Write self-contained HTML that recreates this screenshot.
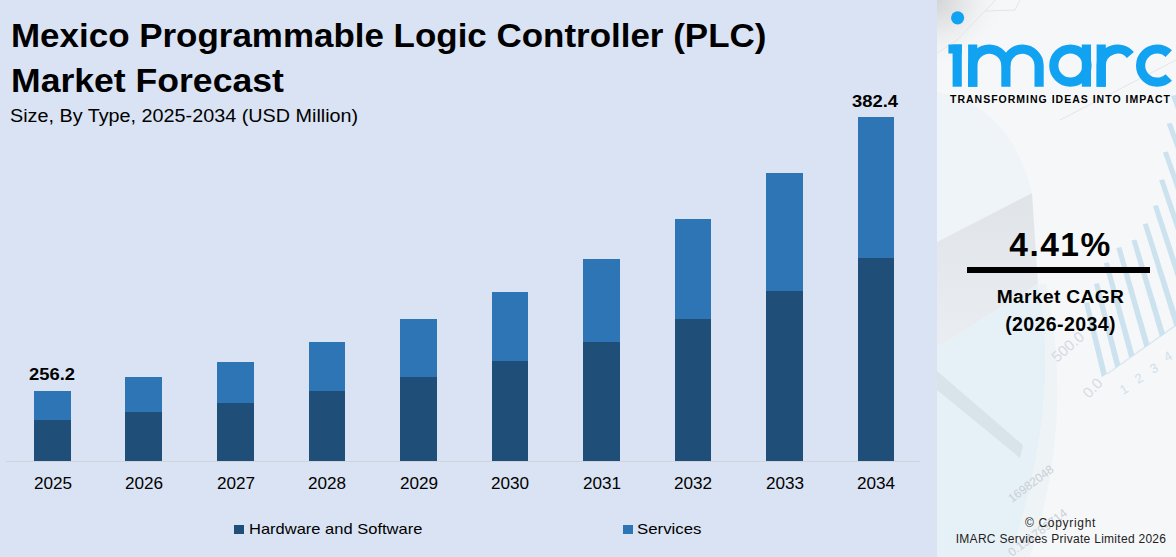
<!DOCTYPE html>
<html><head><meta charset="utf-8">
<style>
*{margin:0;padding:0;box-sizing:border-box}
html,body{width:1176px;height:557px;overflow:hidden;background:#dae3f3;font-family:"Liberation Sans",sans-serif;color:#000}
#left{position:absolute;left:0;top:0;width:937px;height:557px;background:#dae3f3}
.t{position:absolute;white-space:nowrap;line-height:1}
.title{left:10.5px;font-weight:bold;font-size:33px;transform-origin:0 0}
.sub{left:10px;top:106.5px;font-size:18px;transform-origin:0 0;transform:scaleX(1.099)}
.bar{position:absolute;width:36px}
.hw{background:#1f4e79}
.sv{background:#2e75b6}
.axis{position:absolute;left:6px;top:461px;width:914px;height:1px;background:#cfd3da}
.yr{position:absolute;top:476px;font-size:16px;width:60px;text-align:center;transform:scaleX(1.07)}
.val{position:absolute;font-weight:bold;font-size:17px;transform-origin:0 0;transform:scaleX(1.08)}
.leg{position:absolute;top:521px;font-size:15px;transform-origin:0 0}
.sq{position:absolute;width:10px;height:9px;top:525px}
#right{position:absolute;left:937px;top:0;width:239px;height:557px;background:#f4f6f8;overflow:hidden}
.c{position:absolute;left:0;width:239px;text-align:center;white-space:nowrap;line-height:1}
</style></head><body>
<div id="left">
  <div class="t title" style="top:19.3px;transform:scaleX(1.059)">Mexico Programmable Logic Controller (PLC)</div>
  <div class="t title" style="top:64.3px;transform:scaleX(1.078)">Market Forecast</div>
  <div class="t sub">Size, By Type, 2025-2034 (USD Million)</div>
  <div class="axis"></div>
<div class="bar sv" style="left:34px;top:391px;height:29px;width:37px"></div>
<div class="bar hw" style="left:34px;top:420px;height:41px;width:37px"></div>
<div class="t yr" style="left:22.5px">2025</div>
<div class="bar sv" style="left:125px;top:377px;height:35px;width:37px"></div>
<div class="bar hw" style="left:125px;top:412px;height:49px;width:37px"></div>
<div class="t yr" style="left:113.5px">2026</div>
<div class="bar sv" style="left:217px;top:362px;height:41px;width:37px"></div>
<div class="bar hw" style="left:217px;top:403px;height:58px;width:37px"></div>
<div class="t yr" style="left:205.5px">2027</div>
<div class="bar sv" style="left:309px;top:342px;height:49px;width:36px"></div>
<div class="bar hw" style="left:309px;top:391px;height:70px;width:36px"></div>
<div class="t yr" style="left:297.0px">2028</div>
<div class="bar sv" style="left:400px;top:319px;height:58px;width:37px"></div>
<div class="bar hw" style="left:400px;top:377px;height:84px;width:37px"></div>
<div class="t yr" style="left:388.5px">2029</div>
<div class="bar sv" style="left:492px;top:292px;height:69px;width:36px"></div>
<div class="bar hw" style="left:492px;top:361px;height:100px;width:36px"></div>
<div class="t yr" style="left:480.0px">2030</div>
<div class="bar sv" style="left:583px;top:259px;height:83px;width:37px"></div>
<div class="bar hw" style="left:583px;top:342px;height:119px;width:37px"></div>
<div class="t yr" style="left:571.5px">2031</div>
<div class="bar sv" style="left:675px;top:219px;height:100px;width:36px"></div>
<div class="bar hw" style="left:675px;top:319px;height:142px;width:36px"></div>
<div class="t yr" style="left:663.0px">2032</div>
<div class="bar sv" style="left:766px;top:173px;height:118px;width:37px"></div>
<div class="bar hw" style="left:766px;top:291px;height:170px;width:37px"></div>
<div class="t yr" style="left:754.5px">2033</div>
<div class="bar sv" style="left:858px;top:117px;height:141px;width:36px"></div>
<div class="bar hw" style="left:858px;top:258px;height:203px;width:36px"></div>
<div class="t yr" style="left:846.0px">2034</div>
  <div class="t val" style="left:28.5px;top:366px">256.2</div>
  <div class="t val" style="left:851.5px;top:92.5px">382.4</div>
  <div class="sq hw" style="left:234px"></div>
  <div class="t leg" style="left:248.5px;transform:scaleX(1.10)">Hardware and Software</div>
  <div class="sq sv" style="left:623px"></div>
  <div class="t leg" style="left:637px;transform:scaleX(1.12)">Services</div>
</div>
<div id="right">
  <svg width="239" height="557" viewBox="937 0 239 557" style="position:absolute;left:0;top:0">
<defs>
 <radialGradient id="tl" cx="937" cy="0" r="70" gradientUnits="userSpaceOnUse">
  <stop offset="0" stop-color="#d4d5d7"/><stop offset="0.45" stop-color="#e9eaeb"/><stop offset="1" stop-color="#f6f7f8" stop-opacity="0"/>
 </radialGradient>
 <linearGradient id="side" x1="0" y1="0" x2="0" y2="1">
  <stop offset="0" stop-color="#e0e4e8"/><stop offset="1" stop-color="#eaeef2"/>
 </linearGradient>
</defs>
<rect x="937" y="0" width="239" height="557" fill="#f6f7f9"/>
<rect x="937" y="0" width="130" height="120" fill="url(#tl)"/>
<path d="M937 92 Q1010 105 1032 193 L937 242 Z" fill="#eef4f8"/>
<path d="M937 53 L956 41 L985 11 L1015 10 L1020 0 M985 11 L1000 -5 M1060 120 L1176 60" fill="none" stroke="#e3e5e8" stroke-width="1"/>
<path d="M937 242 L1032 193 L1038 284 L937 348 Z" fill="url(#side)"/>
<path d="M937 348 L1038 284 Q1062 400 1010 557 L937 557 Z" fill="#e6f1f7"/>
<path d="M937 371 L1023 445 L1020 458 L937 390 Z" fill="#d9e3ea"/>
<path d="M1010 557 Q1062 400 1038 284 L1046 284 Q1075 420 1030 557 Z" fill="#eef3f6"/>
<g fill="#d5dae4" font-family="Liberation Sans, sans-serif" font-size="15">
<text transform="translate(1057 363) rotate(-41)">500.0</text>
<text transform="translate(1089 399) rotate(-46)">0.0</text>
</g>
<g fill="#cfe1ec" font-family="Liberation Sans, sans-serif" font-size="13">
<text transform="translate(1123 395) rotate(-30)">1</text>
<text transform="translate(1138 384) rotate(-30)">2</text>
<text transform="translate(1153 374) rotate(-30)">3</text>
<text transform="translate(1167 362) rotate(-30)">4</text>
</g>
<path d="M1107 374 L1176 325" stroke="#d8e7f0" stroke-width="1.5"/>
<g fill="#c9cfd6" font-family="Liberation Sans, sans-serif" font-size="12">
<text transform="translate(1012 503) rotate(-37)">16982048</text>
<text transform="translate(1012 557) rotate(-37)">0.151789714</text>
</g>
<g fill="#cce2ef">
<path d="M1084.0 303.0 L1089.0 302.0 L1106.8 373.7 L1101.8 377.2 Z"/>
<path d="M1094.0 284.0 L1099.0 283.0 L1120.3 364.4 L1115.3 367.9 Z"/>
<path d="M1103.8 263.2 L1108.8 262.2 L1134.3 354.7 L1129.3 358.2 Z"/>
<path d="M1116.4 248.1 L1121.4 247.1 L1149.5 344.2 L1144.5 347.7 Z"/>
<path d="M1131.5 240.6 L1136.5 239.6 L1165.0 333.5 L1160.0 337.0 Z"/>
<path d="M1142.8 224.2 L1147.8 223.2 L1179.6 323.4 L1174.6 326.9 Z"/>
<path d="M1152.9 205.9 L1157.9 204.9 L1193.9 313.6 L1188.9 317.1 Z"/>
<path d="M1159.1 180.2 L1164.1 179.2 L1207.2 304.4 L1202.2 307.9 Z"/>
<path d="M1162.9 152.6 L1167.9 151.6 L1219.6 295.9 L1214.6 299.4 Z"/>
<path d="M1166.7 123.8 L1171.7 122.8 L1232.6 286.8 L1227.6 290.3 Z"/>
<path d="M1171.0 96.0 L1176.0 95.0 L1246.3 277.4 L1241.3 280.9 Z"/>
</g>
</svg>
  <svg id="logo" width="239" height="110" viewBox="937 0 239 110" style="position:absolute;left:0;top:0">
<g fill="#12a2f2">
<circle cx="957.6" cy="17.8" r="6.6"/>
<rect x="948.4" y="44.5" width="13.4" height="9"/>
<rect x="952.6" y="44.5" width="9.2" height="42.2"/>
<rect x="968.1" y="44.5" width="9.2" height="42.2"/>
</g>
<g fill="none" stroke="#12a2f2" stroke-width="9.2">
<path d="M972.7 86.7 V65.7 A16.6 16.6 0 0 1 1005.9 65.7 V86.7"/>
<path d="M1005.9 65.7 A16.6 16.6 0 0 1 1039.1 65.7 V86.7"/>
<circle cx="1070.4" cy="65.6" r="16.6"/>
<path d="M1101.2 86.7 V65.7 A16.6 16.6 0 0 1 1130.4 54.9"/>
<path d="M1168.73 53.66 A16.6 16.6 0 1 0 1168.73 77.54"/>
</g>
<rect x="1081.8" y="44.5" width="9.2" height="42.2" fill="#12a2f2"/>
<rect x="1096.6" y="44.5" width="9.2" height="42.2" fill="#12a2f2"/>
</svg>
  <div class="c" style="top:94px;left:4px;font-weight:bold;font-size:10.5px;letter-spacing:1.0px">TRANSFORMING IDEAS INTO IMPACT</div>
  <div class="c" style="top:227.5px;left:4px;font-weight:bold;font-size:33.5px;letter-spacing:1.5px">4.41%</div>
  <div style="position:absolute;left:30px;top:267px;width:183px;height:6px;background:#000"></div>
  <div class="c" style="top:287px;left:4px;font-weight:bold;font-size:19.2px;letter-spacing:0.35px">Market CAGR</div>
  <div class="c" style="top:315px;left:4px;font-weight:bold;font-size:19.5px;letter-spacing:0.4px">(2026-2034)</div>
  <div class="c" style="top:516.5px;left:4px;font-size:12px;letter-spacing:0.7px;color:#222">&copy; Copyright</div>
  <div class="c" style="top:532.5px;left:4.5px;font-size:12px;letter-spacing:0.28px;color:#222">IMARC Services Private Limited 2026</div>
</div>
</body></html>
